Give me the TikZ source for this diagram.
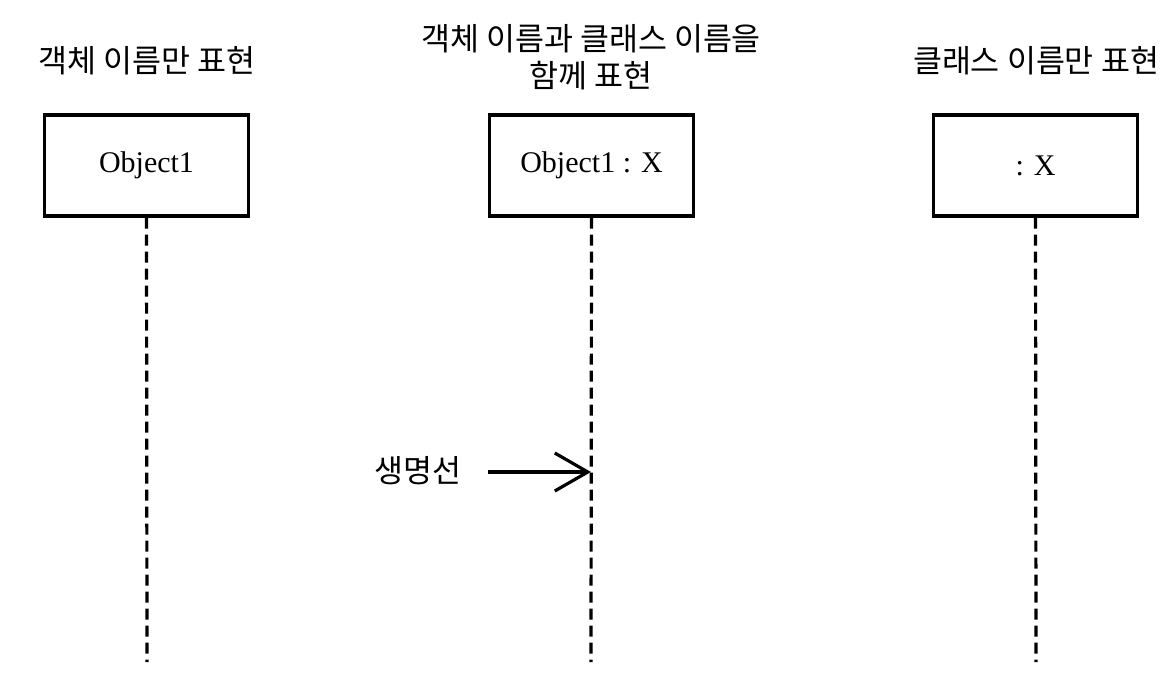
\documentclass[tikz,border=0pt]{standalone}
\usepackage{fontspec}
\setmainfont{Liberation Serif}
\newfontfamily\kor{Noto Sans CJK KR}
\usetikzlibrary{arrows.meta}
\begin{document}
\begin{tikzpicture}[x=1pt,y=1pt,
  objbox/.style={draw,line width=3.2pt,minimum width=204pt,minimum height=101pt,inner sep=0pt,font=\fontsize{30}{36}\selectfont},
  title/.style={font=\kor\fontsize{31.5}{37}\selectfont,align=center,inner sep=0pt},
  life/.style={line width=3.2pt,dash pattern=on 11pt off 6pt},
  note/.style={line width=3.2pt,-{Straight Barb[length=33pt,width=38pt,line width=3.2pt]}}]
\useasboundingbox (0,0) rectangle (1176,-686);
\node[title] (t1) at (147,-61) {객체 이름만 표현};
\node[title] (t2) at (591,-57) {객체 이름과 클래스 이름을\\함께 표현};
\node[title] (t3) at (1036,-61) {클래스 이름만 표현};
\node[objbox] (o1) at (146.5,-165.5) {Object1};
\node[objbox] (o2) at (591.5,-165.5) {Object1 : X};
\node[objbox] (o3) at (1035.5,-165.5) {: X};
\coordinate (e1) at (147,-662);
\coordinate (e2) at (591,-662);
\coordinate (e3) at (1036,-662);
\draw[life] (o1.south) -- (e1);
\draw[life] (o2.south) -- (e2);
\draw[life] (o3.south) -- (e3);
\node[title,anchor=east] (lbl) at (462,-471) {생명선};
\coordinate (tip) at (591,-472);
\draw[note] ([xshift=26pt,yshift=-1pt]lbl.east) -- (tip);
\end{tikzpicture}
\end{document}
